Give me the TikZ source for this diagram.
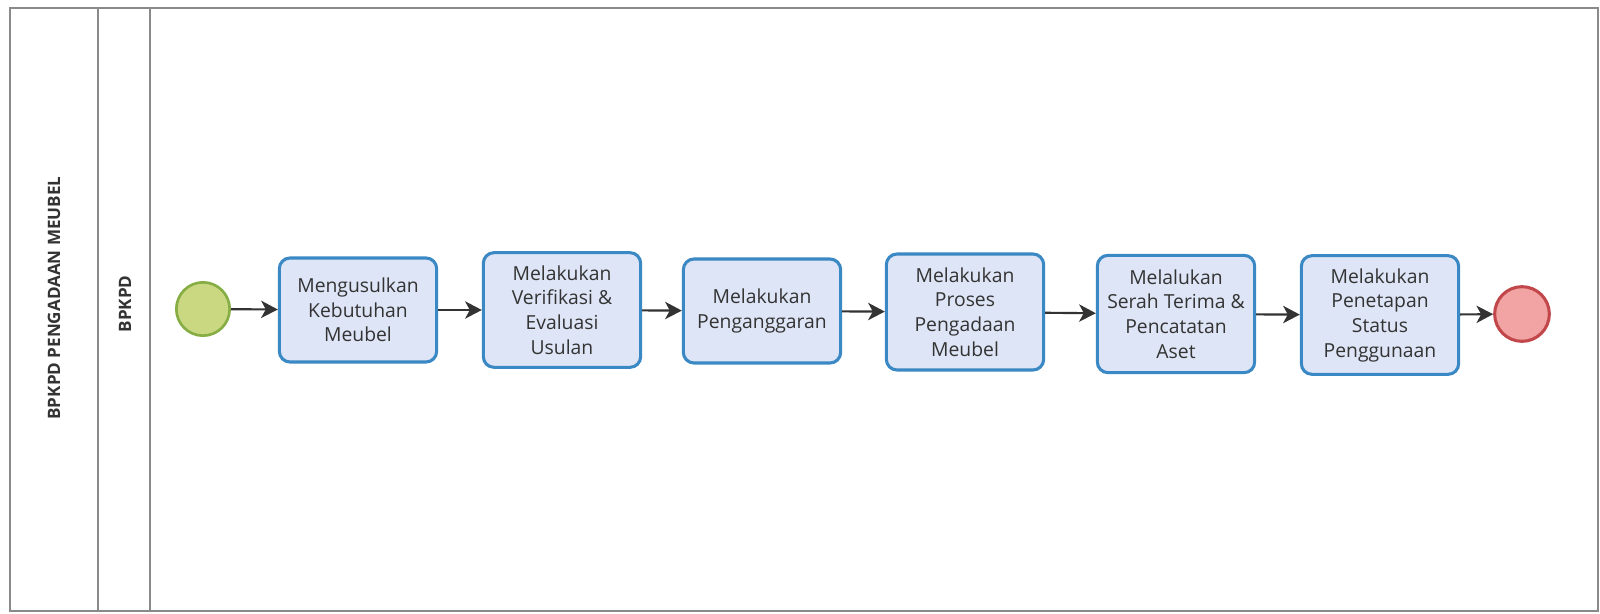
\documentclass[tikz,border=0pt]{standalone}
\usepackage{fontspec}
\setmainfont{Open Sans}
\usetikzlibrary{arrows.meta}
\definecolor{taskfill}{HTML}{DEE5F6}
\definecolor{taskdraw}{HTML}{3A88C4}
\definecolor{startfill}{HTML}{CBD882}
\definecolor{startdraw}{HTML}{86AE45}
\definecolor{endfill}{HTML}{F2A3A3}
\definecolor{enddraw}{HTML}{C2474A}
\definecolor{lanecol}{HTML}{8A8A8A}
\definecolor{txt}{HTML}{333333}
\tikzset{
  task/.style={draw=taskdraw, fill=taskfill, line width=2.3pt, rounded corners=8pt,
    minimum width=118pt, align=center, font=\fontsize{14.5}{18.5}\selectfont, text=txt, inner sep=2pt},
  startev/.style={circle, draw=startdraw, fill=startfill, line width=2pt, minimum size=40pt, inner sep=0pt},
  endev/.style={circle, draw=enddraw, fill=endfill, line width=2.3pt, minimum size=41pt, inner sep=0pt},
  flow/.style={draw=txt, line width=1.6pt, -{Stealth[length=12.5pt,width=13pt,inset=3.5pt]}},
  lane/.style={draw=lanecol, line width=1pt},
  lanelabel/.style={rotate=90, font=\bfseries\fontsize{12.8}{15}\selectfont, text=txt}
}
\begin{document}
\begin{tikzpicture}[x=0.75pt,y=-0.75pt]
\useasboundingbox (0,0) rectangle (1600,614);
% lanes
\draw[lane] (10,8) rectangle (1598,611);
\draw[lane] (98,8) -- (98,611);
\draw[lane] (150,8) -- (150,611);
\node[lanelabel] (pool) at (54,298) {BPKPD PENGADAAN MEUBEL};
\node[lanelabel] (lanea) at (125,304) {BPKPD};
% events and tasks
\node[startev] (start) at (203,309) {};
\node[task, minimum height=78pt] (t1) at (358,310) {Mengusulkan\\Kebutuhan\\Meubel};
\node[task, minimum height=86pt] (t2) at (562,310) {Melakukan\\Verifikasi \&\\Evaluasi\\Usulan};
\node[task, minimum height=78pt] (t3) at (762,311) {Melakukan\\Penganggaran};
\node[task, minimum height=87pt] (t4) at (965,312) {Melakukan\\Proses\\Pengadaan\\Meubel};
\node[task, minimum height=88pt] (t5) at (1176,314) {Melalukan\\Serah Terima \&\\Pencatatan\\Aset};
\node[task, minimum height=89pt] (t6) at (1380,315) {Melakukan\\Penetapan\\Status\\Penggunaan};
\node[endev] (end) at (1522,314) {};
% flows
\draw[flow] (start) -- (t1);
\draw[flow] (t1) -- (t2);
\draw[flow] (t2) -- (t3);
\draw[flow] (t3) -- (t4);
\draw[flow] (t4) -- (t5);
\draw[flow] (t5) -- (t6);
\draw[flow] (t6) -- (end);
\end{tikzpicture}
\end{document}
